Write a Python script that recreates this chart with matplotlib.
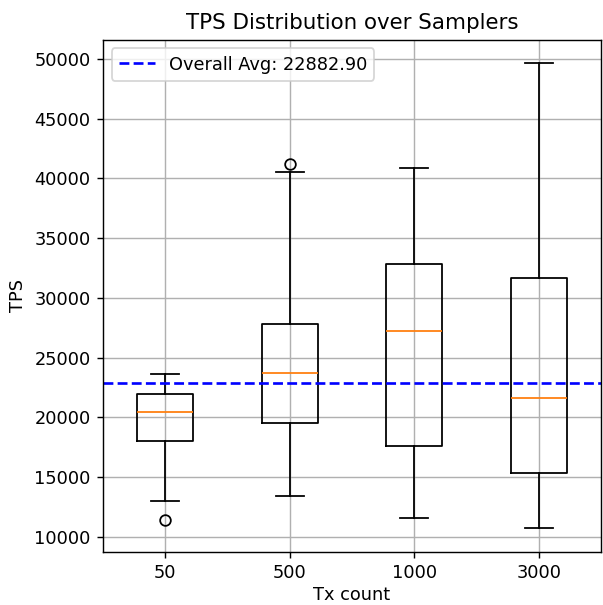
import matplotlib
matplotlib.use("Agg")
import matplotlib.pyplot as plt

categories = ["50", "500", "1000", "3000"]
whislo = [12990, 13430, 11570, 10700]
q1 = [18020, 19500, 17560, 15310]
med = [20420, 23720, 27190, 21570]
q3 = [21930, 27840, 32860, 31690]
whishi = [23610, 40540, 40880, 49690]
fliers = [[11390], [41180], [], []]
overall_avg = 22882.90

stats = []
for i, c in enumerate(categories):
    stats.append(dict(label=c, whislo=whislo[i], q1=q1[i], med=med[i],
                      q3=q3[i], whishi=whishi[i], fliers=fliers[i]))

DPI = 128
fig = plt.figure(figsize=(603 / DPI, 605 / DPI), dpi=DPI)
ax = fig.add_axes([103 / 603, 1 - 551.5 / 605, (601 - 103) / 603, (551.5 - 39.5) / 605])
ax.bxp(stats)
ax.axhline(overall_avg, color="blue", linestyle="--", label=f"Overall Avg: {overall_avg:.2f}")
ax.set_title("TPS Distribution over Samplers")
ax.set_xlabel("Tx count", labelpad=2.5)
ax.set_ylabel("TPS")
ax.grid(True)
ax.legend(loc="upper left")
fig.savefig("out.png", dpi=DPI)
